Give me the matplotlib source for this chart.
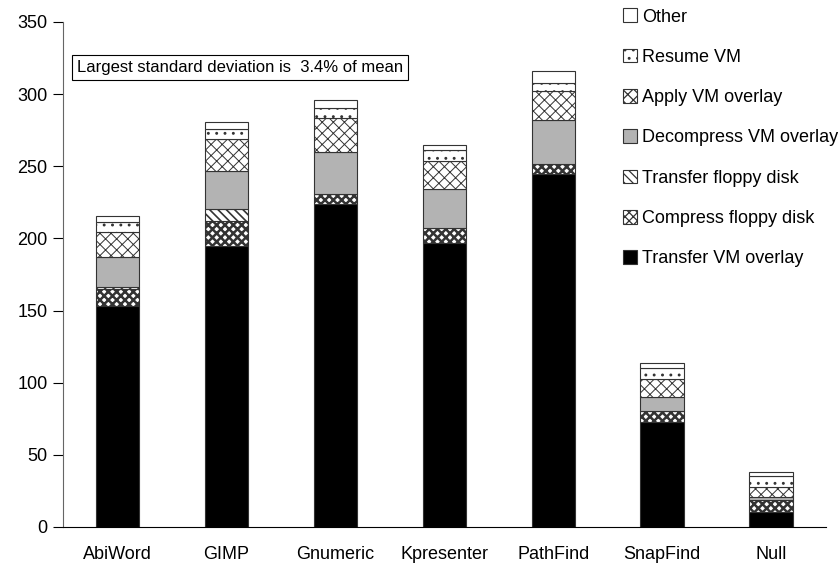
import numpy as np
import matplotlib
matplotlib.use('Agg')
import matplotlib.pyplot as plt

# Stacked resume-time breakdown per application

apps = ['AbiWord', 'GIMP', 'Gnumeric', 'Kpresenter', 'PathFind', 'SnapFind', 'Null']

transfer_vm = [153.0, 195.0, 223.6, 196.6, 244.4, 72.6, 10.6]
compress_floppy = [12.0, 17.3, 6.9, 10.8, 7.1, 7.8, 8.1]
transfer_floppy = [1.0, 7.9, 0.0, 0.0, 0.0, 0.0, 0.0]
decompress_vm = [20.8, 26.5, 29.1, 26.8, 30.5, 9.9, 1.9]
apply_vm = [17.5, 22.0, 23.6, 19.2, 20.1, 12.3, 7.3]
resume_vm = [6.9, 7.1, 7.4, 8.0, 5.8, 7.4, 7.6]
other = [4.2, 5.1, 5.3, 3.6, 8.0, 3.9, 2.4]

# name, values, face, hatch, hatch line width
series = [
    ('Transfer VM overlay', transfer_vm, 'black', None, 0.9),
    ('Compress floppy disk', compress_floppy, 'white', 'xxxx', 1.8),
    ('Transfer floppy disk', transfer_floppy, 'white', '\\\\\\\\', 1.2),
    ('Decompress VM overlay', decompress_vm, '#b3b3b3', None, 0.9),
    ('Apply VM overlay', apply_vm, 'white', 'xxx', 0.7),
    ('Resume VM', resume_vm, 'white', '..', 0.9),
    ('Other', other, 'white', None, 0.9),
]

plt.rcParams['font.family'] = ['Liberation Sans Narrow', 'Liberation Sans', 'DejaVu Sans']
plt.rcParams['hatch.linewidth'] = 0.9

fig = plt.figure(figsize=(8.4, 5.77), dpi=100)
ax = fig.add_axes([0.075, 0.0867, 0.908, 0.8753])

x = np.arange(len(apps))
bottom = np.zeros(len(apps))
for name, vals, color, hatch, hlw in series:
    bars = ax.bar(x, vals, width=0.4, bottom=bottom, color=color, hatch=hatch,
                  edgecolor='#333333', linewidth=0.8, label=name)
    for b in bars:
        if hasattr(b, 'set_hatch_linewidth'):
            b.set_hatch_linewidth(hlw)
    bottom += np.array(vals)

ax.set_xlim(-0.5, len(apps) - 0.5)
ax.set_ylim(0, 350)
ax.set_yticks(range(0, 351, 50))
ax.set_xticks(x)
ax.set_xticklabels(apps)
ax.tick_params(axis='y', direction='out', length=7, width=0.8, labelsize=13, pad=4)
ax.tick_params(axis='x', length=0, labelsize=13, pad=14)
ax.spines['top'].set_visible(False)
ax.spines['right'].set_visible(False)
ax.spines['left'].set_color('#666666')
ax.spines['bottom'].set_color('black')

handles, labels = ax.get_legend_handles_labels()
leg = fig.legend(handles[::-1], labels[::-1], loc='upper left', bbox_to_anchor=(0.733, 0.998),
                 frameon=False, fontsize=13, handlelength=0.8, handleheight=0.8,
                 handletextpad=0.25, labelspacing=1.28, borderaxespad=0)

fig.text(0.092, 0.883, 'Largest standard deviation is  3.4% of mean', fontsize=12,
         va='center', ha='left',
         bbox=dict(boxstyle='square,pad=0.3', facecolor='white', edgecolor='black', linewidth=0.8))

plt.savefig('out.png', dpi=100)
